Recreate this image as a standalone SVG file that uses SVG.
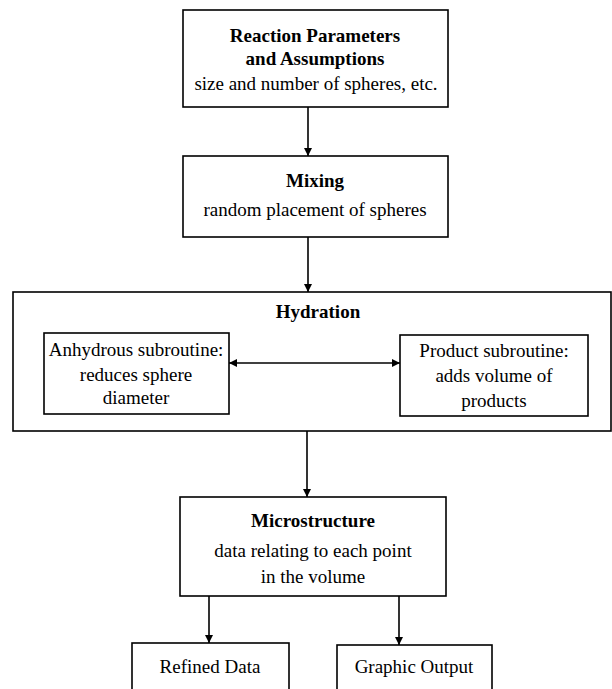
<svg xmlns="http://www.w3.org/2000/svg" width="612" height="689" viewBox="0 0 612 689">
<style>
.box{fill:#fff;stroke:#000;stroke-width:1.6}
.t{font-family:"Liberation Serif","Times New Roman",serif;font-size:19px;fill:#000;text-anchor:middle}
.b{font-weight:bold}
.c{stroke:#000;stroke-width:1.6;fill:none}
</style>
<defs>
<marker id="ah" viewBox="0 0 10 10" refX="10" refY="5" markerWidth="8" markerHeight="8" markerUnits="userSpaceOnUse" orient="auto-start-reverse">
<path d="M0,0 L10,5 L0,10 z" fill="#000"/>
</marker>
</defs>
<rect width="612" height="689" fill="#fff"/>
<g id="hydration">
<rect class="box" x="13" y="292" width="598" height="139"/>
<text class="t b" x="318" y="318">Hydration</text>
</g>
<g id="reaction">
<rect class="box" x="183" y="10" width="265" height="97"/>
<text class="t b" x="315" y="42">Reaction Parameters</text>
<text class="t b" x="315" y="65">and Assumptions</text>
<text class="t" x="316" y="90">size and number of spheres, etc.</text>
</g>
<g id="mixing">
<rect class="box" x="183" y="156" width="265" height="81"/>
<text class="t b" x="315" y="187">Mixing</text>
<text class="t" x="315" y="216">random placement of spheres</text>
</g>
<g id="anhydrous">
<rect class="box" x="44" y="333" width="185" height="81"/>
<text class="t" x="136" y="356">Anhydrous subroutine:</text>
<text class="t" x="136" y="381">reduces sphere</text>
<text class="t" x="136" y="404">diameter</text>
</g>
<g id="product">
<rect class="box" x="400" y="335" width="188" height="81"/>
<text class="t" x="494" y="357">Product subroutine:</text>
<text class="t" x="494" y="382">adds volume of</text>
<text class="t" x="494" y="407">products</text>
</g>
<g id="microstructure">
<rect class="box" x="180" y="497" width="266" height="99"/>
<text class="t b" x="313" y="527">Microstructure</text>
<text class="t" x="313" y="557">data relating to each point</text>
<text class="t" x="313" y="583">in the volume</text>
</g>
<g id="refined">
<rect class="box" x="132" y="643" width="157" height="60"/>
<text class="t" x="210" y="673">Refined Data</text>
</g>
<g id="graphic">
<rect class="box" x="337" y="645" width="155" height="60"/>
<text class="t" x="414" y="673">Graphic Output</text>
</g>
<g id="connectors">
<line class="c" x1="308" y1="107" x2="308" y2="156" marker-end="url(#ah)"/>
<line class="c" x1="308" y1="237" x2="308" y2="292" marker-end="url(#ah)"/>
<line class="c" x1="229" y1="363" x2="400" y2="363" marker-start="url(#ah)" marker-end="url(#ah)"/>
<line class="c" x1="307" y1="431" x2="307" y2="497" marker-end="url(#ah)"/>
<line class="c" x1="209" y1="596" x2="209" y2="643" marker-end="url(#ah)"/>
<line class="c" x1="399" y1="596" x2="399" y2="645" marker-end="url(#ah)"/>
</g>
</svg>
